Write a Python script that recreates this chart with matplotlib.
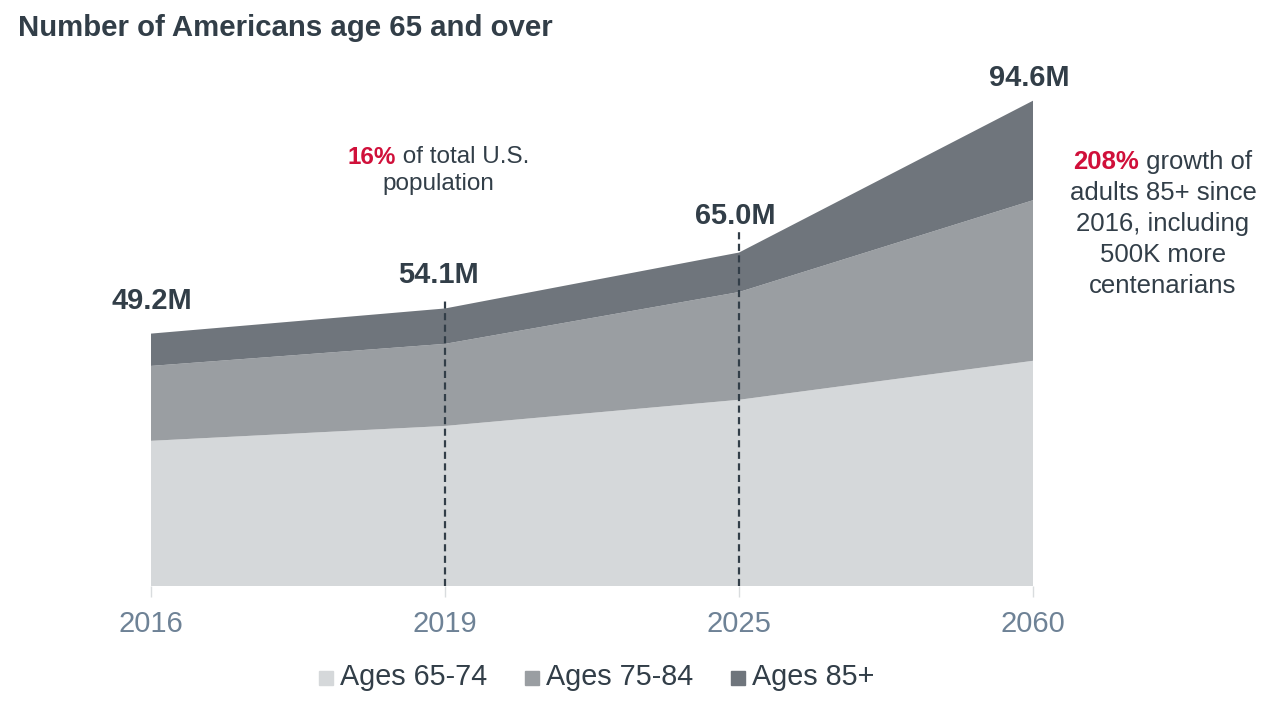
import matplotlib
matplotlib.use("Agg")
import matplotlib.pyplot as plt
from matplotlib.patches import Rectangle

plt.rcParams["font.family"] = ["Liberation Sans", "DejaVu Sans"]

years = ["2016", "2019", "2025", "2060"]
ages_65_74 = [28.3, 31.2, 36.3, 43.9]
ages_75_84 = [14.6, 16.0, 21.0, 31.3]
ages_85_plus = [6.3, 6.9, 7.7, 19.4]
series_names = ["Ages 65-74", "Ages 75-84", "Ages 85+"]
total_labels = ["49.2M", "54.1M", "65.0M", "94.6M"]
title = "Number of Americans age 65 and over"

COLORS = ["#D5D8DA", "#9A9EA2", "#6F757C"]
DARK = "#323E48"
RED = "#D0103A"
TICK = "#6E8296"

W, H = 1280, 716
fig = plt.figure(figsize=(W / 100, H / 100), dpi=100)

# axes: x=0 at 151px, x=3 at 1033px; y=0 at 586px, 5.13 px per million
base_px, px_per_m, ytop = 586, 5.13, 100
ax = fig.add_axes([151 / W, (H - base_px) / H, (1033 - 151) / W, ytop * px_per_m / H])
x = list(range(len(years)))
ax.stackplot(x, ages_65_74, ages_75_84, ages_85_plus, colors=COLORS, linewidth=0)
ax.set_xlim(0, 3)
ax.set_ylim(0, ytop)
for s in ax.spines.values():
    s.set_visible(False)
ax.set_yticks([])
ax.set_xticks(x)
ax.set_xticklabels(years, fontsize=21, color=TICK)
ax.tick_params(axis="x", length=8, width=1, color="#D9DCDE", pad=9)

totals = [a + b + c for a, b, c in zip(ages_65_74, ages_75_84, ages_85_plus)]

# dashed guides at 2019 and 2025
dash_tops = [55.7, 69.0]
for xi, top in zip([1, 2], dash_tops):
    ax.plot([xi, xi], [0, top], color=DARK, lw=1.6, linestyle=(0, (3.2, 2.0)),
            clip_on=False, zorder=3)

# total labels above each stack (offsets in px)
label_offsets = [(1, 33), (-6, 33), (-4, 37), (-4, 23)]
for xi, tot, lab, (dx, dy) in zip(x, totals, total_labels, label_offsets):
    ax.annotate(lab, (xi, tot), xytext=(dx * 0.72, dy * 0.72), textcoords="offset points",
                ha="center", va="center", fontsize=20.9, fontweight="bold",
                color=DARK, annotation_clip=False)

fig.text(18 / W, 1 - 28 / H, title, fontsize=21.2, fontweight="bold", color=DARK,
         ha="left", va="center")

renderer = fig.canvas.get_renderer()


def rich_line(cx, cy, parts, size):
    texts = []
    for s, c, w in parts:
        texts.append(fig.text(0, 1 - cy / H, s, color=c, fontweight=w, fontsize=size,
                              ha="left", va="center"))
    widths = [t.get_window_extent(renderer).width for t in texts]
    start = cx - sum(widths) / 2
    for t, wd in zip(texts, widths):
        t.set_x(start / W)
        start += wd


rich_line(438, 157, [("16%", RED, "bold"), (" of total U.S.", DARK, "normal")], 17.5)
rich_line(438, 184, [("population", DARK, "normal")], 17.5)

right_lines = [[("208%", RED, "bold"), (" growth of", DARK, "normal")],
               [("adults 85+ since", DARK, "normal")],
               [("2016, including", DARK, "normal")],
               [("500K more", DARK, "normal")],
               [("centenarians", DARK, "normal")]]
for i, parts in enumerate(right_lines):
    rich_line(1163, 162 + 31 * i, parts, 18.5)

# legend
leg_x = [319, 525, 731]
for lx, name, col in zip(leg_x, series_names, COLORS):
    fig.patches.append(Rectangle((lx / W, 1 - 685 / H), 14 / W, 14 / H, color=col,
                                 transform=fig.transFigure, figure=fig))
    fig.text((lx + 21) / W, 1 - 677 / H, name, fontsize=20.7, color=DARK,
             ha="left", va="center")

fig.savefig("out.png", dpi=100, facecolor="white")
